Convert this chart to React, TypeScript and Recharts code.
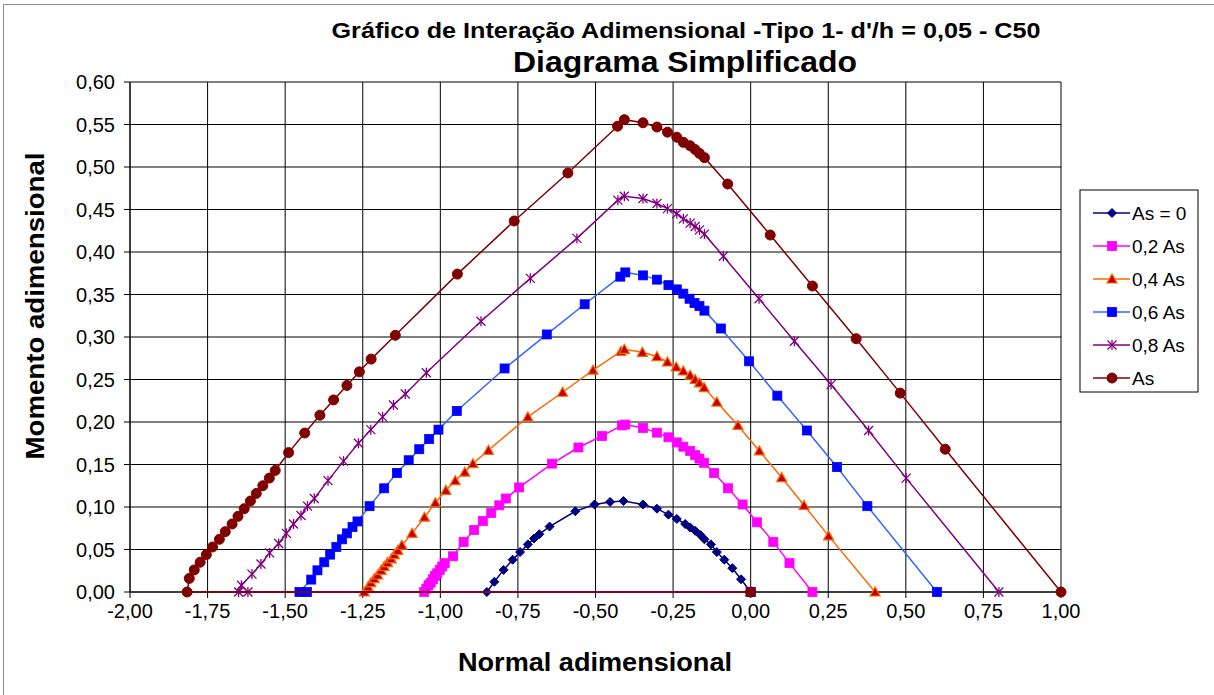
import React from 'react'
import { ScatterChart, Scatter, XAxis, YAxis, CartesianGrid } from 'recharts'

// Eixos
const xTicks = [-2, -1.75, -1.5, -1.25, -1, -0.75, -0.5, -0.25, 0, 0.25, 0.5, 0.75, 1]
const yTicks = [0, 0.05, 0.1, 0.15, 0.2, 0.25, 0.3, 0.35, 0.4, 0.45, 0.5, 0.55, 0.6]

// As = 0
const nAs0 = [0, -0.85, -0.826, -0.796, -0.767, -0.743, -0.718, -0.698, -0.681, -0.648, -0.565, -0.503, -0.453, -0.41, -0.347, -0.302, -0.265, -0.238, -0.211, -0.195, -0.179, -0.162, -0.149, -0.128, -0.109, -0.085, -0.059, -0.031, 0]
const mAs0 = [0, 0, 0.012, 0.026, 0.038, 0.047, 0.056, 0.063, 0.068, 0.077, 0.095, 0.103, 0.106, 0.107, 0.103, 0.098, 0.091, 0.086, 0.08, 0.076, 0.072, 0.067, 0.062, 0.056, 0.047, 0.038, 0.028, 0.015, 0]

// 0,2 As
const nAs02 = [0, -1.052, -1.045, -1.038, -1.031, -1.024, -1.017, -1.01, -1.002, -0.994, -0.986, -0.959, -0.925, -0.891, -0.863, -0.836, -0.81, -0.789, -0.746, -0.64, -0.555, -0.479, -0.415, -0.404, -0.347, -0.302, -0.265, -0.238, -0.217, -0.195, -0.179, -0.165, -0.15, -0.118, -0.073, -0.026, 0.02, 0.073, 0.125, 0.199]
const mAs02 = [0, 0, 0.004, 0.008, 0.011, 0.015, 0.019, 0.022, 0.026, 0.03, 0.034, 0.042, 0.059, 0.073, 0.0835, 0.093, 0.102, 0.11, 0.123, 0.151, 0.17, 0.1835, 0.196, 0.197, 0.193, 0.1875, 0.182, 0.176, 0.171, 0.166, 0.161, 0.157, 0.152, 0.14, 0.122, 0.103, 0.082, 0.059, 0.034, 0]

// 0,4 As
const nAs04 = [0, -1.245, -1.233, -1.224, -1.213, -1.202, -1.191, -1.181, -1.17, -1.158, -1.148, -1.137, -1.124, -1.091, -1.051, -1.016, -0.982, -0.952, -0.921, -0.895, -0.845, -0.718, -0.606, -0.508, -0.418, -0.407, -0.349, -0.302, -0.268, -0.24, -0.217, -0.195, -0.179, -0.165, -0.15, -0.109, -0.041, 0.028, 0.1, 0.172, 0.251, 0.401]
const mAs04 = [0, 0, 0.006, 0.011, 0.0157, 0.02, 0.0255, 0.03, 0.0346, 0.039, 0.044, 0.049, 0.055, 0.069, 0.088, 0.105, 0.1196, 0.131, 0.141, 0.151, 0.1667, 0.206, 0.235, 0.261, 0.283, 0.2855, 0.282, 0.277, 0.2706, 0.2647, 0.26, 0.255, 0.25, 0.246, 0.2405, 0.2235, 0.196, 0.166, 0.1346, 0.102, 0.066, 0]

// 0,6 As
const nAs06 = [0, -1.43, -1.454, -1.416, -1.396, -1.374, -1.355, -1.335, -1.317, -1.301, -1.283, -1.267, -1.228, -1.181, -1.14, -1.102, -1.068, -1.036, -1.006, -0.947, -0.793, -0.657, -0.535, -0.42, -0.404, -0.347, -0.302, -0.265, -0.238, -0.217, -0.197, -0.181, -0.165, -0.149, -0.096, -0.005, 0.086, 0.181, 0.278, 0.376, 0.6]
const mAs06 = [0, 0, 0, 0.0146, 0.0255, 0.035, 0.044, 0.053, 0.062, 0.069, 0.0765, 0.083, 0.101, 0.122, 0.14, 0.155, 0.168, 0.18, 0.191, 0.213, 0.263, 0.303, 0.3385, 0.371, 0.376, 0.3725, 0.3675, 0.361, 0.356, 0.351, 0.345, 0.34, 0.3365, 0.331, 0.31, 0.2714, 0.231, 0.19, 0.147, 0.101, 0]

// 0,8 As
const nAs08 = [0, -1.62, -1.65, -1.641, -1.607, -1.578, -1.55, -1.521, -1.496, -1.473, -1.449, -1.428, -1.406, -1.362, -1.312, -1.264, -1.224, -1.186, -1.151, -1.113, -1.045, -0.869, -0.71, -0.56, -0.428, -0.407, -0.347, -0.302, -0.268, -0.238, -0.217, -0.195, -0.179, -0.165, -0.149, -0.088, 0.027, 0.141, 0.259, 0.38, 0.501, 0.8]
const mAs08 = [0, 0, 0, 0.008, 0.021, 0.033, 0.046, 0.057, 0.069, 0.08, 0.09, 0.101, 0.11, 0.131, 0.154, 0.175, 0.191, 0.206, 0.22, 0.233, 0.258, 0.3185, 0.369, 0.416, 0.461, 0.4655, 0.463, 0.457, 0.451, 0.445, 0.439, 0.434, 0.43, 0.426, 0.421, 0.395, 0.345, 0.295, 0.244, 0.19, 0.134, 0]

// As
const nAs1 = [0, -1.816, -1.809, -1.793, -1.774, -1.754, -1.734, -1.712, -1.693, -1.671, -1.652, -1.632, -1.612, -1.593, -1.572, -1.551, -1.532, -1.489, -1.437, -1.388, -1.344, -1.301, -1.261, -1.223, -1.145, -0.945, -0.762, -0.589, -0.429, -0.407, -0.347, -0.302, -0.268, -0.238, -0.217, -0.195, -0.179, -0.165, -0.149, -0.074, 0.063, 0.199, 0.34, 0.482, 0.627, 1]
const mAs1 = [0, 0, 0.016, 0.026, 0.035, 0.044, 0.053, 0.062, 0.071, 0.08, 0.089, 0.098, 0.107, 0.116, 0.125, 0.134, 0.143, 0.164, 0.187, 0.208, 0.226, 0.243, 0.259, 0.274, 0.302, 0.374, 0.4365, 0.493, 0.548, 0.5557, 0.552, 0.547, 0.541, 0.535, 0.529, 0.525, 0.5205, 0.516, 0.511, 0.48, 0.42, 0.36, 0.298, 0.234, 0.168, 0]

const toPoints = (n: number[], m: number[]) => n.map((v, i) => ({ n: v, m: m[i] }))

const fmt = (v: number) => v.toFixed(2).replace('.', ',')
const FONT = '"Liberation Sans", Arial, sans-serif'

// marcadores
const Diamond = ({ cx, cy }: any) => (
  <polygon points={`${cx},${cy - 4.5} ${cx + 4.5},${cy} ${cx},${cy + 4.5} ${cx - 4.5},${cy}`} fill="#000080" stroke="#000080" strokeWidth={1} />
)
const makeSquare = (color: string) => ({ cx, cy }: any) => (
  <rect x={cx - 4.5} y={cy - 4.5} width={9} height={9} fill={color} stroke={color} strokeWidth={0.8} />
)
const Triangle = ({ cx, cy }: any) => (
  <polygon points={`${cx},${cy - 5} ${cx + 5},${cy + 4} ${cx - 5},${cy + 4}`} fill="#c00000" stroke="#ff6600" strokeWidth={1.2} />
)
const Asterisk = ({ cx, cy }: any) => (
  <g stroke="#800080" strokeWidth={1.3}>
    <line x1={cx} y1={cy - 5} x2={cx} y2={cy + 5} />
    <line x1={cx - 4.5} y1={cy - 4.5} x2={cx + 4.5} y2={cy + 4.5} />
    <line x1={cx - 4.5} y1={cy + 4.5} x2={cx + 4.5} y2={cy - 4.5} />
  </g>
)
const Circle = ({ cx, cy }: any) => <circle cx={cx} cy={cy} r={5} fill="#800000" stroke="#800000" />

const series = [
  { name: 'As = 0', data: toPoints(nAs0, mAs0), line: '#000080', shape: Diamond },
  { name: '0,2 As', data: toPoints(nAs02, mAs02), line: '#ff00ff', shape: makeSquare('#ff00ff') },
  { name: '0,4 As', data: toPoints(nAs04, mAs04), line: '#ff6600', shape: Triangle },
  { name: '0,6 As', data: toPoints(nAs06, mAs06), line: '#3366ff', shape: makeSquare('#0000ff') },
  { name: '0,8 As', data: toPoints(nAs08, mAs08), line: '#800080', shape: Asterisk },
  { name: 'As', data: toPoints(nAs1, mAs1), line: '#800000', shape: Circle },
]

function LegendBox() {
  return (
    <svg width={122} height={206} style={{ position: 'absolute', left: 1079, top: 189 }}>
      <rect x={1} y={1} width={118} height={202} fill="#fff" stroke="#000" strokeWidth={1} />
      {series.map((s, i) => {
        const y = 24 + i * 33
        const Shape = s.shape
        return (
          <g key={s.name}>
            <line x1={14} y1={y} x2={51} y2={y} stroke={s.line} strokeWidth={1.5} />
            <Shape cx={33} cy={y} />
            <text x={53} y={y + 7} fontFamily={FONT} fontSize={19} fill="#000">{s.name}</text>
          </g>
        )
      })}
    </svg>
  )
}

export default function App() {
  return (
    <div style={{ position: 'absolute', left: 0, top: 0, width: 1214, height: 695, background: '#fff' }}>
      <div style={{ position: 'absolute', left: 3, top: 4, width: 1214, height: 700, borderTop: '1px solid #8c8c8c', borderLeft: '1px solid #8c8c8c' }} />
      <ScatterChart width={1214} height={695} margin={{ top: 82, right: 153, bottom: 73, left: 70 }}>
        <CartesianGrid stroke="#000" strokeWidth={1} horizontalValues={yTicks} verticalValues={xTicks} />
        <XAxis
          type="number"
          dataKey="n"
          domain={[-2, 1]}
          ticks={xTicks}
          height={30}
          tickFormatter={fmt}
          tickSize={6}
          tickMargin={6}
          stroke="#000"
          tick={{ fill: '#000', fontSize: 20, fontFamily: FONT }}
        />
        <YAxis
          type="number"
          dataKey="m"
          domain={[0, 0.6]}
          ticks={yTicks}
          width={60}
          tickFormatter={fmt}
          tickSize={6}
          tickMargin={9}
          stroke="#000"
          tick={{ fill: '#000', fontSize: 20, fontFamily: FONT }}
        />
        {series.map((s) => (
          <Scatter
            key={s.name}
            name={s.name}
            data={s.data}
            line={{ stroke: s.line, strokeWidth: 1.5 }}
            lineType="joint"
            shape={s.shape}
            isAnimationActive={false}
          />
        ))}
      </ScatterChart>
      <svg width={1214} height={695} style={{ position: 'absolute', left: 0, top: 0, pointerEvents: 'none' }}>
        <text x={686} y={38} textAnchor="middle" fontFamily={FONT} fontWeight="bold" fontSize={22} textLength={709} lengthAdjust="spacingAndGlyphs">
          Gráfico de Interação Adimensional -Tipo 1- d'/h = 0,05 - C50
        </text>
        <text x={685} y={72} textAnchor="middle" fontFamily={FONT} fontWeight="bold" fontSize={30} textLength={344} lengthAdjust="spacingAndGlyphs">
          Diagrama Simplificado
        </text>
        <text x={595} y={671} textAnchor="middle" fontFamily={FONT} fontWeight="bold" fontSize={26} textLength={274} lengthAdjust="spacingAndGlyphs">
          Normal adimensional
        </text>
        <text x={0} y={0} transform="translate(44,306) rotate(-90)" textAnchor="middle" fontFamily={FONT} fontWeight="bold" fontSize={26} textLength={307} lengthAdjust="spacingAndGlyphs">
          Momento adimensional
        </text>
      </svg>
      <LegendBox />
    </div>
  )
}
